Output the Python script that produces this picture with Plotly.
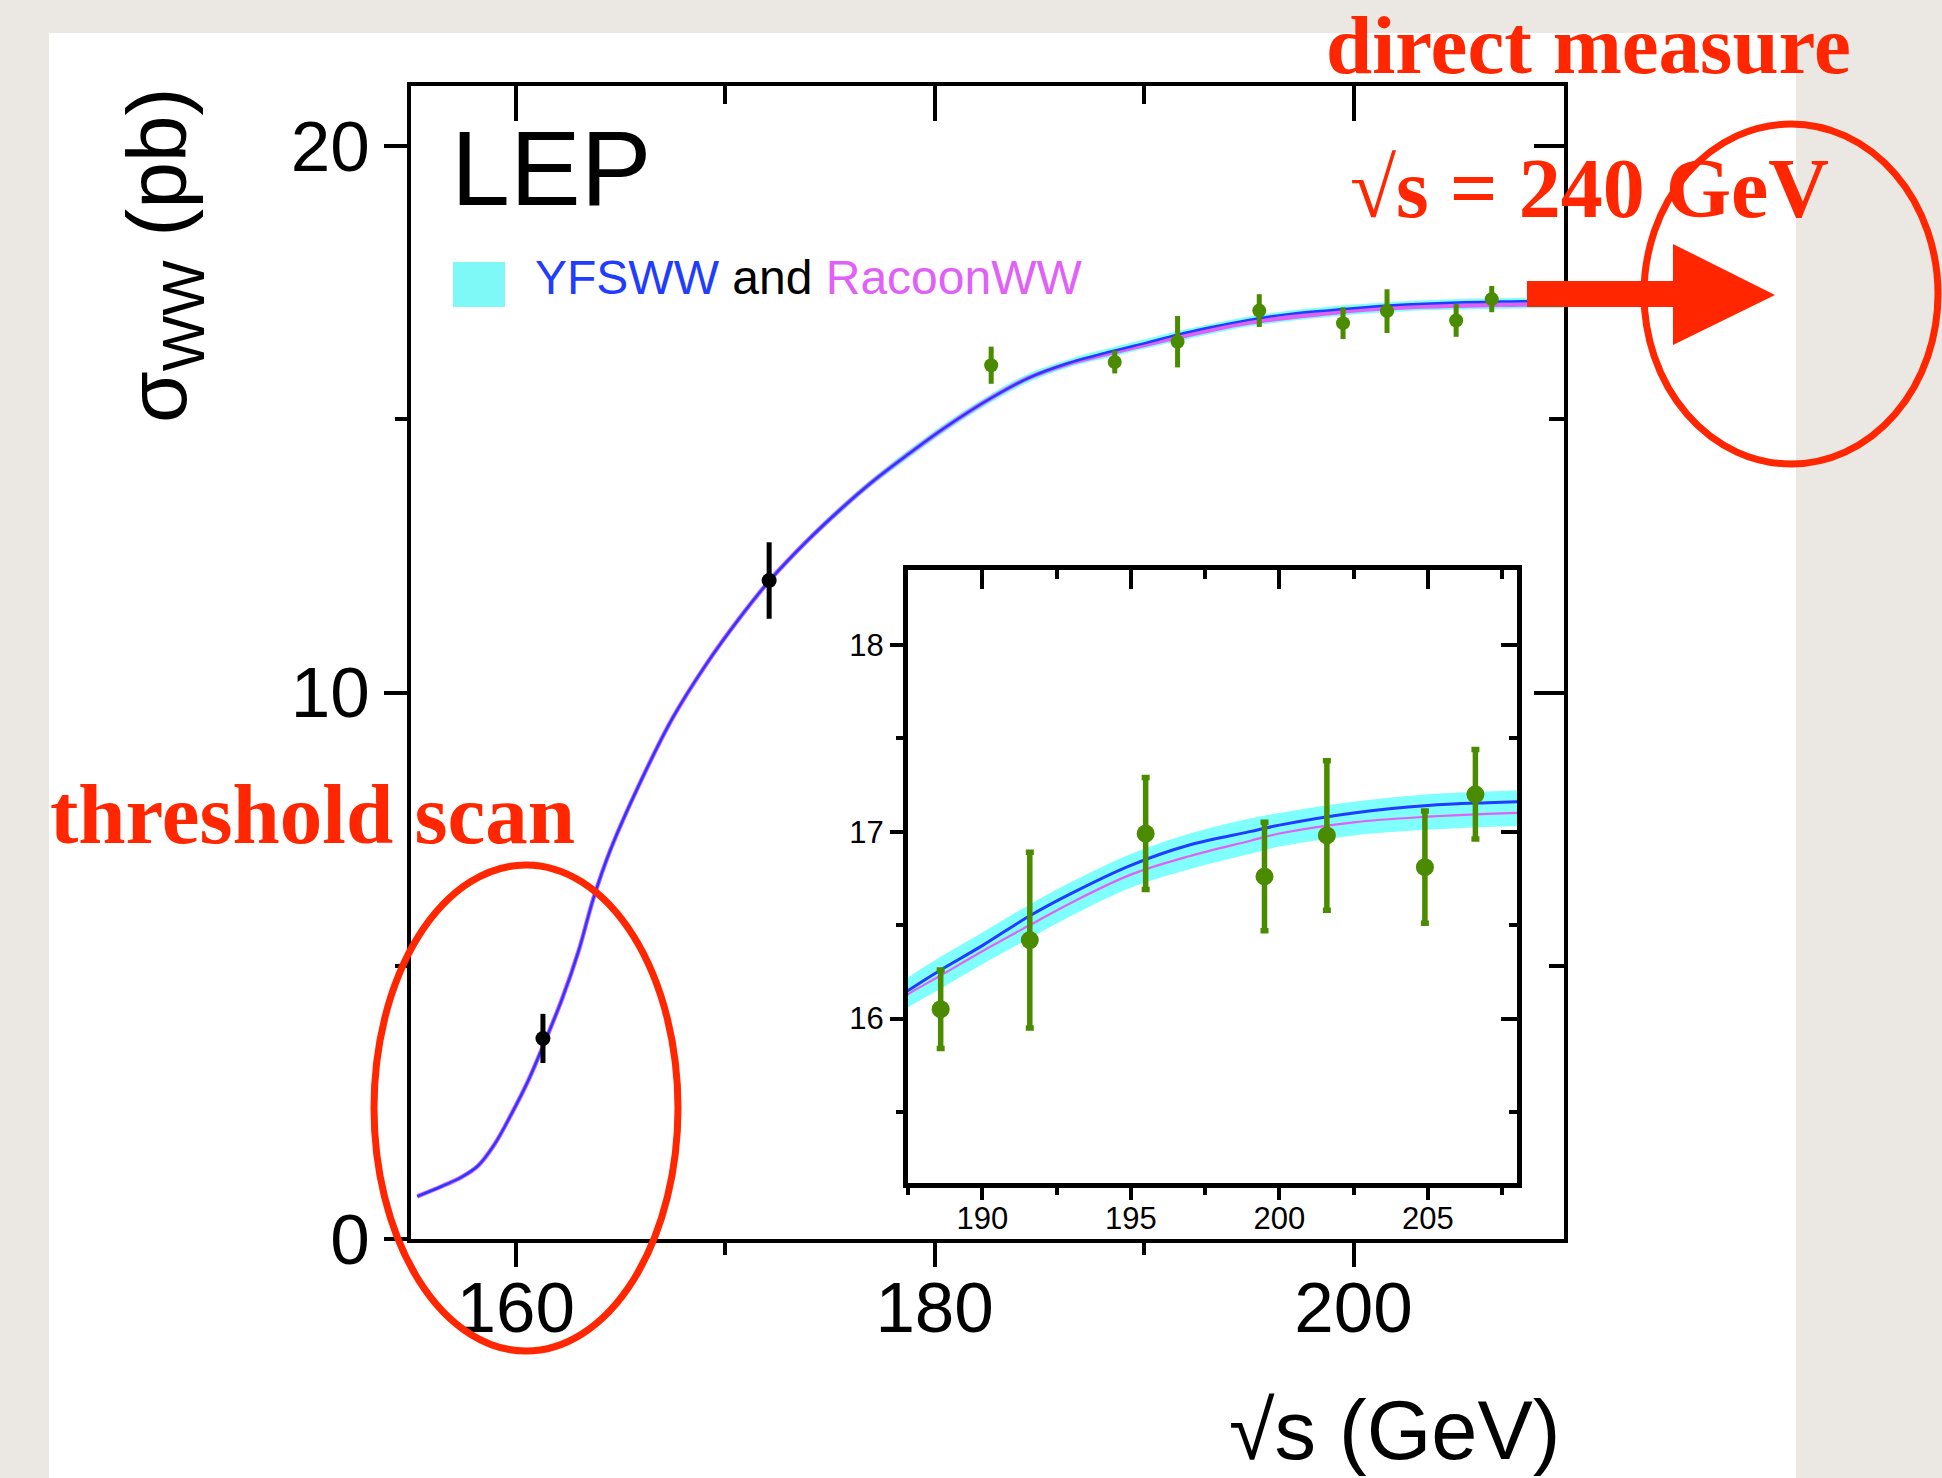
import plotly.graph_objects as go

# ---------------- data ----------------
energy_theory = [155.3, 156.5, 157.4, 158.2, 159.0, 159.8, 160.6, 161.4, 162.2, 163.0,
                 163.7, 164.5, 165.9, 167.5, 169.1, 170.7, 172.1, 173.9, 175.5, 177.1,
                 178.7, 180.5, 182.7, 184.5, 186.4, 187.6, 188.6, 190.0, 191.6, 193.0,
                 195.0, 197.0, 199.0, 200.0, 202.5, 205.0, 207.0, 208.0, 210.0]
yfsww = [0.78, 0.97, 1.13, 1.34, 1.74, 2.29, 2.90, 3.62, 4.38, 5.27,
         6.22, 7.10, 8.32, 9.54, 10.52, 11.37, 12.04, 12.77, 13.35, 13.88,
         14.35, 14.85, 15.39, 15.76, 16.03, 16.16, 16.26, 16.39, 16.55, 16.67,
         16.82, 16.93, 17.00, 17.035, 17.10, 17.14, 17.155, 17.16, 17.17]
racoonww = [0.78, 0.97, 1.13, 1.34, 1.74, 2.29, 2.90, 3.62, 4.38, 5.27,
            6.22, 7.10, 8.32, 9.54, 10.52, 11.37, 12.04, 12.77, 13.35, 13.88,
            14.35, 14.85, 15.39, 15.76, 16.02, 16.14, 16.23, 16.36, 16.50, 16.62,
            16.77, 16.87, 16.95, 16.99, 17.05, 17.08, 17.095, 17.10, 17.105]
band_low = [0.77, 0.96, 1.12, 1.33, 1.73, 2.27, 2.88, 3.60, 4.36, 5.24,
            6.19, 7.06, 8.28, 9.49, 10.47, 11.31, 11.98, 12.71, 13.28, 13.81,
            14.27, 14.77, 15.31, 15.68, 15.95, 16.07, 16.16, 16.29, 16.43, 16.55,
            16.70, 16.80, 16.88, 16.92, 16.98, 17.01, 17.025, 17.03, 17.035]
band_high = [0.79, 0.98, 1.14, 1.35, 1.75, 2.31, 2.92, 3.64, 4.40, 5.30,
             6.25, 7.14, 8.36, 9.59, 10.57, 11.43, 12.10, 12.83, 13.42, 13.95,
             14.43, 14.93, 15.47, 15.84, 16.10, 16.23, 16.33, 16.46, 16.61, 16.73,
             16.88, 16.99, 17.07, 17.10, 17.16, 17.20, 17.215, 17.22, 17.23]

lep1_energy = [161.3, 172.1]
lep1_sigma = [3.67, 12.05]
lep1_err = [0.45, 0.70]

lep2_energy = [182.7, 188.6, 191.6, 195.5, 199.5, 201.6, 204.9, 206.6]
lep2_sigma = [15.99, 16.05, 16.42, 16.99, 16.76, 16.98, 16.81, 17.20]
lep2_err = [0.34, 0.21, 0.47, 0.30, 0.29, 0.40, 0.30, 0.24]

main_x_range = [155.0, 210.05]
main_y_range = [0.0, 21.1]
main_x_minor_ticks = [170, 190]
inset_x_range = [187.5, 208.0]
inset_y_range = [15.12, 18.4]

# ---------------- layout geometry (pixels) ----------------
W_PX, H_PX = 1942, 1478
PL, PR, PT, PB = 411, 1564, 86, 1239


def fx(px):
    return (px - PL) / (PR - PL)


def fy(py):
    return (PB - py) / (PB - PT)


SANS = "Liberation Sans, Arial, Helvetica, sans-serif"
SERIF = "Liberation Serif, Times New Roman, serif"
RED = "#ff2600"
CYAN = "#80ffff"
BLUE = "#1f3cff"
MAGENTA = "#e060f8"
GREEN = "#4b8b00"

fig = go.Figure()


def add_theory(xa, ya, blue_w, mag_w, mag_first):
    fig.add_trace(go.Scatter(x=energy_theory, y=band_low, mode="lines",
                             line=dict(width=0, color=CYAN, shape="spline"),
                             xaxis=xa, yaxis=ya, hoverinfo="skip", showlegend=False))
    fig.add_trace(go.Scatter(x=energy_theory, y=band_high, mode="lines",
                             line=dict(width=0, color=CYAN, shape="spline"),
                             fill="tonexty", fillcolor=CYAN, xaxis=xa, yaxis=ya,
                             hoverinfo="skip", showlegend=False))
    blue = go.Scatter(x=energy_theory, y=yfsww, mode="lines",
                      line=dict(width=blue_w, color=BLUE, shape="spline"),
                      xaxis=xa, yaxis=ya, hoverinfo="skip", showlegend=False)
    mag = go.Scatter(x=energy_theory, y=racoonww, mode="lines",
                     line=dict(width=mag_w, color=MAGENTA, shape="spline"),
                     xaxis=xa, yaxis=ya, hoverinfo="skip", showlegend=False)
    if mag_first:
        fig.add_trace(mag)
        fig.add_trace(blue)
    else:
        fig.add_trace(blue)
        fig.add_trace(mag)


# main plot
add_theory("x", "y", 2.5, 4.5, True)
fig.add_trace(go.Scatter(x=lep1_energy, y=lep1_sigma, mode="markers",
                         marker=dict(color="black", size=15),
                         error_y=dict(type="data", array=lep1_err, color="black",
                                      thickness=5, width=0),
                         xaxis="x", yaxis="y", showlegend=False))
fig.add_trace(go.Scatter(x=lep2_energy, y=lep2_sigma, mode="markers",
                         marker=dict(color=GREEN, size=14),
                         error_y=dict(type="data", array=lep2_err, color=GREEN,
                                      thickness=5, width=0),
                         xaxis="x", yaxis="y", showlegend=False))
# overlay axes (inner ticks on top/right of main frame)
fig.add_trace(go.Scatter(x=[None], y=[None], xaxis="x2", yaxis="y2",
                         showlegend=False, hoverinfo="skip"))

# inset
add_theory("x3", "y3", 3, 2.2, False)
fig.add_trace(go.Scatter(x=lep2_energy, y=lep2_sigma, mode="markers",
                         marker=dict(color=GREEN, size=18),
                         error_y=dict(type="data", array=lep2_err, color=GREEN,
                                      thickness=5.5, width=4),
                         xaxis="x3", yaxis="y3", showlegend=False))
fig.add_trace(go.Scatter(x=[None], y=[None], xaxis="x4", yaxis="y4",
                         showlegend=False, hoverinfo="skip"))

main_tick_font = dict(family=SANS, size=71, color="black")
inset_tick_font = dict(family=SANS, size=31, color="black")

common = dict(showgrid=False, zeroline=False, showline=True, linecolor="black",
              tickcolor="black", fixedrange=True)

fig.update_layout(
    width=W_PX, height=H_PX,
    margin=dict(l=PL, r=W_PX - PR, t=PT, b=H_PX - PB, pad=0),
    paper_bgcolor="#ebe8e3", plot_bgcolor="white",
    font=dict(family=SANS, color="black"),
    showlegend=False,
    template="none",
    xaxis=dict(range=main_x_range, domain=[0, 1], anchor="y", side="bottom",
               tick0=160, dtick=20, ticks="outside", ticklen=24, tickwidth=4,
               linewidth=4, tickfont=main_tick_font, ticklabelstandoff=-20,
               minor=dict(tickmode="array", tickvals=main_x_minor_ticks,
                          ticks="outside", ticklen=12, tickwidth=4,
                          tickcolor="black"),
               **common),
    xaxis2=dict(range=main_x_range, overlaying="x", anchor="y2", side="top",
                tick0=160, dtick=20, ticks="inside", ticklen=35, tickwidth=4,
                linewidth=4, showticklabels=False,
                minor=dict(tickmode="array", tickvals=main_x_minor_ticks,
                           ticks="inside", ticklen=18, tickwidth=4,
                           tickcolor="black"),
                **common),
    yaxis=dict(range=main_y_range, domain=[0, 1], anchor="x", side="left",
               tick0=0, dtick=10, ticks="outside", ticklen=23, tickwidth=4,
               linewidth=4, tickfont=main_tick_font,
               minor=dict(tick0=0, dtick=5, ticks="outside", ticklen=12,
                          tickwidth=4, tickcolor="black"),
               **common),
    yaxis2=dict(range=main_y_range, overlaying="y", anchor="x2", side="right",
                tick0=0, dtick=10, ticks="inside", ticklen=30, tickwidth=4,
                linewidth=4, showticklabels=False,
                minor=dict(tick0=0, dtick=5, ticks="inside", ticklen=15,
                           tickwidth=4, tickcolor="black"),
                **common),
    xaxis3=dict(range=inset_x_range, domain=[fx(908), fx(1517)], anchor="y3",
                side="bottom", tick0=190, dtick=5, ticks="outside", ticklen=12,
                tickwidth=3.5, linewidth=5, tickfont=inset_tick_font,
                ticklabelstandoff=-8,
                minor=dict(tick0=187.5, dtick=2.5, ticks="outside", ticklen=7,
                           tickwidth=3.5, tickcolor="black"),
                **common),
    xaxis4=dict(range=inset_x_range, overlaying="x3", anchor="y4", side="top",
                tick0=190, dtick=5, ticks="inside", ticklen=19, tickwidth=3.5,
                linewidth=5, showticklabels=False,
                minor=dict(tick0=187.5, dtick=2.5, ticks="inside", ticklen=9,
                           tickwidth=3.5, tickcolor="black"),
                **common),
    yaxis3=dict(range=inset_y_range, domain=[fy(1183), fy(570)], anchor="x3",
                side="left", tick0=16, dtick=1, ticks="outside", ticklen=13,
                tickwidth=3.5, linewidth=5, tickfont=inset_tick_font,
                minor=dict(tick0=15.5, dtick=0.5, ticks="outside", ticklen=7,
                           tickwidth=3.5, tickcolor="black"),
                **common),
    yaxis4=dict(range=inset_y_range, overlaying="y3", anchor="x4", side="right",
                tick0=16, dtick=1, ticks="inside", ticklen=16, tickwidth=3.5,
                linewidth=5, showticklabels=False,
                minor=dict(tick0=15.5, dtick=0.5, ticks="inside", ticklen=8,
                           tickwidth=3.5, tickcolor="black"),
                **common),
)

shapes = [
    # white slide panel
    dict(type="rect", xref="paper", yref="paper", layer="below",
         x0=fx(49), x1=fx(1796), y0=fy(33), y1=fy(1490),
         fillcolor="white", line=dict(width=0)),
    # legend swatch
    dict(type="rect", xref="paper", yref="paper",
         x0=fx(453), x1=fx(505), y0=fy(307), y1=fy(262),
         fillcolor="#7ff8f8", line=dict(width=0)),
    # red ellipses
    dict(type="circle", xref="paper", yref="paper",
         x0=fx(526 - 152), x1=fx(526 + 152), y0=fy(1108 + 243), y1=fy(1108 - 243),
         line=dict(color=RED, width=7)),
    dict(type="circle", xref="paper", yref="paper",
         x0=fx(1791 - 147), x1=fx(1791 + 147), y0=fy(294 + 170), y1=fy(294 - 170),
         line=dict(color=RED, width=7)),
]
arrow_pts = [(1527, 281), (1673, 281), (1673, 244), (1775, 295),
             (1673, 345), (1673, 307), (1527, 307)]
path = "M " + " L ".join(f"{fx(a):.5f},{fy(b):.5f}" for a, b in arrow_pts) + " Z"
shapes.append(dict(type="path", xref="paper", yref="paper", path=path,
                   fillcolor=RED, line=dict(color=RED, width=0)))
fig.update_layout(shapes=shapes)

annotations = [
    dict(text="LEP", x=fx(449), y=fy(167.5), xanchor="left", yanchor="middle",
         font=dict(family=SANS, size=106, color="black")),
    dict(text=f"<span style='color:{BLUE}'>YFSWW</span> and "
              f"<span style='color:{MAGENTA}'>RacoonWW</span>",
         x=fx(533), y=fy(277.5), xanchor="left", yanchor="middle",
         font=dict(family=SANS, size=48, color="black")),
    dict(text="σ<sub>WW</sub> (pb)", textangle=-90, x=fx(163), y=fy(255),
         xanchor="center", yanchor="middle",
         font=dict(family=SANS, size=84, color="black")),
    dict(text="√s (GeV)", x=fx(1562), y=fy(1431), xanchor="right", yanchor="middle",
         font=dict(family=SANS, size=83, color="black")),
    dict(text="<b>direct measure</b>", x=fx(1325), y=fy(45), xanchor="left",
         yanchor="middle", borderpad=0,
         font=dict(family=SERIF, size=83, color=RED)),
    dict(text="<b>√s = 240 GeV</b>", x=fx(1348), y=fy(188), xanchor="left",
         yanchor="middle", font=dict(family=SERIF, size=84, color=RED)),
    dict(text="<b>threshold scan</b>", x=fx(48), y=fy(813.7), xanchor="left",
         yanchor="middle", font=dict(family=SERIF, size=85, color=RED)),
]
for a in annotations:
    a.update(xref="paper", yref="paper", showarrow=False)
fig.update_layout(annotations=annotations)

fig.write_html("out.html")
